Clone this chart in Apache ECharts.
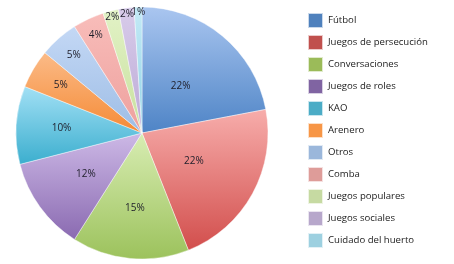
<!DOCTYPE html>
<html><head><meta charset="utf-8">
<script src="https://cdn.jsdelivr.net/npm/echarts@6/dist/echarts.min.js"></script>
<style>html,body{margin:0;padding:0;background:#fff}#c{width:454px;height:264px}</style>
</head><body><div id="c"></div>
<script>
const categories = ["Fútbol","Juegos de persecución","Conversaciones","Juegos de roles","KAO","Arenero","Otros","Comba","Juegos populares","Juegos sociales","Cuidado del huerto"];
const values = [22,22,15,12,10,5,5,4,2,2,1];
const legendColors = ["#4F81BD","#C0504D","#9BBB59","#8064A2","#4BACC6","#F79646","#9BB7DB","#DE9C99","#C6DAA2","#B7A7CB","#9DD0E0"];
const lightColors = ["#AAC6F0","#F7ADAB","#D8EDB3","#CDB9E6","#A2E0F5","#FBBB88","#C4D8F5","#F8BDBA","#E2F2C6","#D8CCEA","#C4EAF6"];
const darkColors = ["#4E84C6","#D24E4C","#9CC25C","#8A6AB1","#3BAECE","#F58A35","#9DBDE5","#EEA09D","#C8E09E","#BCA9D6","#8FD2E6"];
// label distance from centre, as a fraction of the radius
const labelRadius = [0.48,0.47,0.6,0.55,0.64,0.75,0.82,0.86,0.95,0.95,0.96];

const CX = 142, CY = 133, R = 126;
const total = values.reduce((a,b)=>a+b,0);
const midAngles = [];
{ let acc = 0; values.forEach(v=>{ midAngles.push((acc + v/2)/total*2*Math.PI); acc += v; }); }

const chart = echarts.init(document.getElementById('c'));
chart.setOption({
  animation:false,
  legend:{
    orient:'vertical', left:307, top:12, height:252, padding:0, itemWidth:15, itemHeight:15, itemGap:5,
    icon:'rect',
    textStyle:{fontFamily:'Open Sans', fontSize:9.6, lineHeight:15, color:'#222'},
    data: categories.map((n,i)=>({name:n, itemStyle:{color:legendColors[i]}}))
  },
  series:[{
    type:'pie', center:[CX,CY], radius:[0,R], startAngle:90, clockwise:true,
    label:{show:true, position:'inside', formatter:'{d}%', fontFamily:'Open Sans', fontSize:10, color:'#1e1e2a'},
    labelLine:{show:false},
    labelLayout:function(p){
      const i = p.dataIndex, a = midAngles[i], f = labelRadius[i];
      return {x: CX + R*f*Math.sin(a), y: CY - R*f*Math.cos(a), align:'center', verticalAlign:'middle'};
    },
    itemStyle:{borderColor:'rgba(255,255,255,0.7)', borderWidth:0.6},
    emphasis:{disabled:true},
    data: categories.map((n,i)=>({name:n, value:values[i], itemStyle:{
      color:new echarts.graphic.LinearGradient(0,0,0,1,[{offset:0,color:lightColors[i]},{offset:1,color:darkColors[i]}])
    }}))
  }]
});
</script></body></html>
